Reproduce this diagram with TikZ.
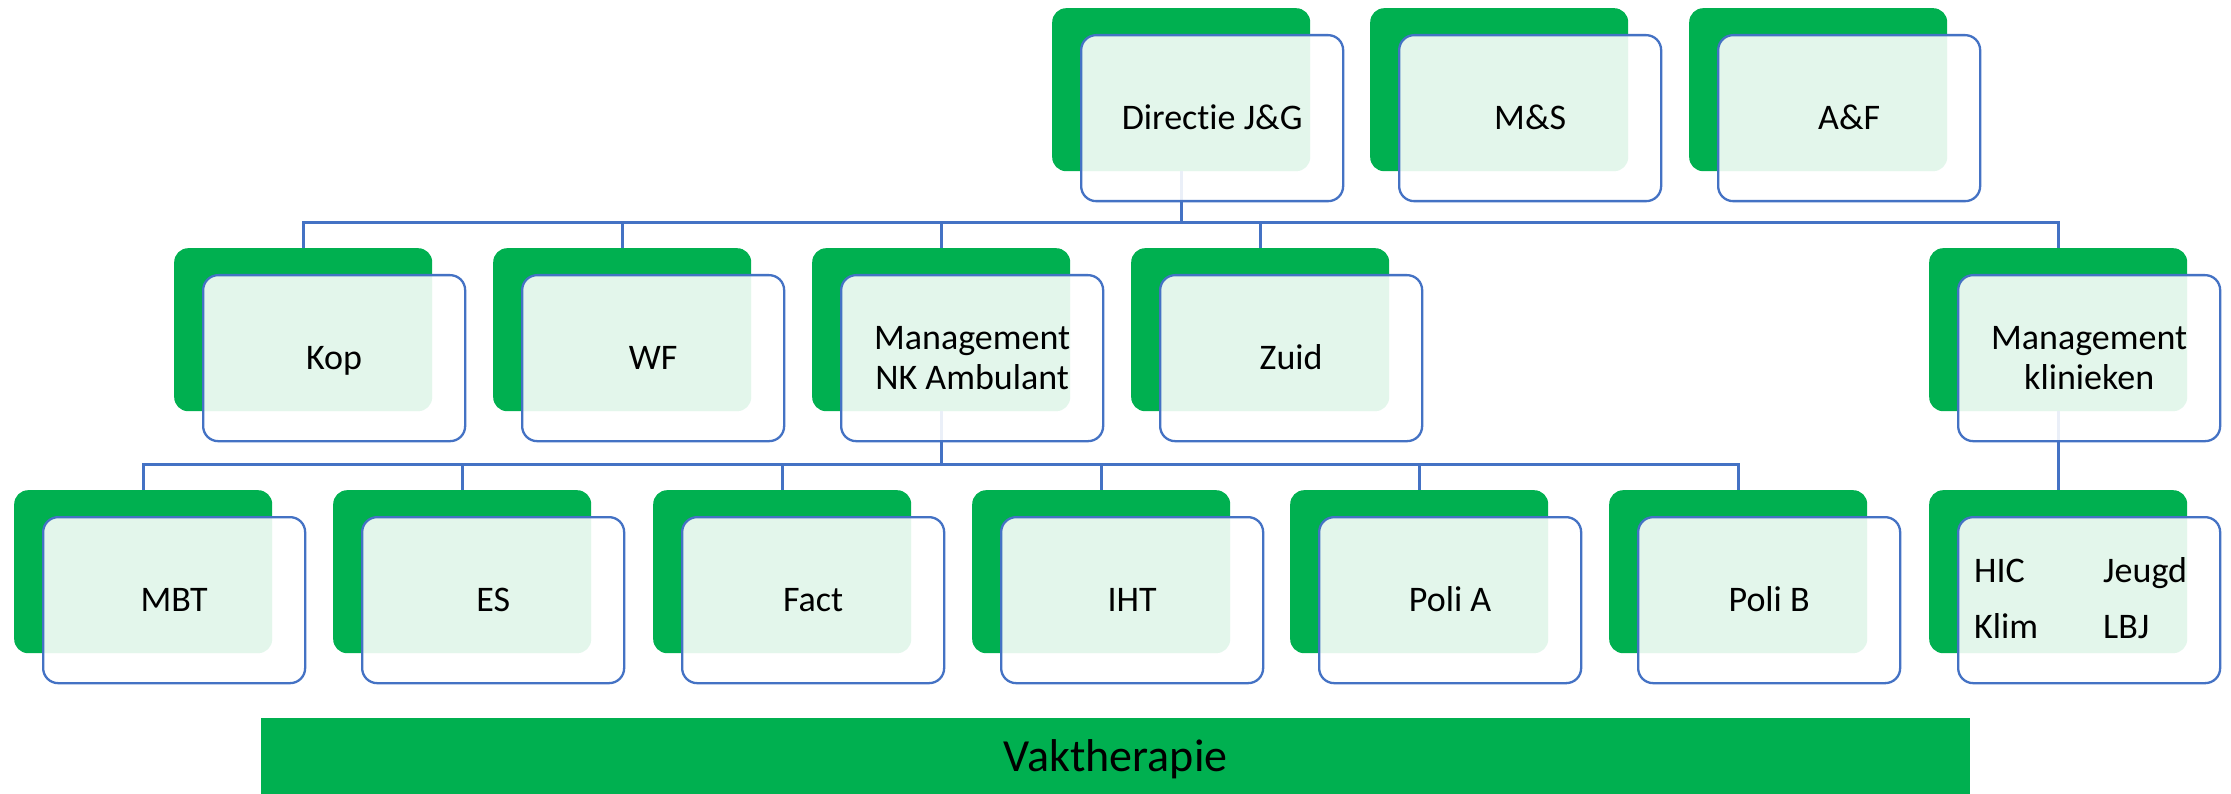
\documentclass[tikz,border=0pt]{standalone}
\usepackage{fontspec}
\setmainfont{Carlito}[Ligatures=NoCommon]
\definecolor{ogreen}{HTML}{00B050}
\definecolor{oblue}{HTML}{4472C4}
\begin{document}
\begin{tikzpicture}[x=1pt,y=-1pt,
  back/.style={rectangle,rounded corners=14pt,fill=ogreen,minimum width=258pt,minimum height=163pt,inner sep=0pt,anchor=north west},
  front/.style={rectangle,rounded corners=15pt,draw=oblue,line width=2.3pt,fill=white,fill opacity=0.89,text opacity=1,draw opacity=1,minimum width=262pt,minimum height=166pt,inner sep=0pt,anchor=north west,align=center,font=\fontsize{36}{40}\selectfont},
  oneline/.style={text height=23pt,text depth=0pt},
  conn/.style={draw=oblue,line width=2.6pt},
  lbl/.style={anchor=base west,inner sep=0pt,font=\fontsize{36}{40}\selectfont}]
\useasboundingbox (0,0) rectangle (2231,794);
% back (green) boxes
\node[back] (dirG) at (1052,8) {};
\node[back] (msG) at (1370,8) {};
\node[back] (afG) at (1689,8) {};
\node[back] (kopG) at (174,248) {};
\node[back] (wfG) at (493,248) {};
\node[back] (nkG) at (812,248) {};
\node[back] (zuidG) at (1131,248) {};
\node[back] (klinG) at (1929,248) {};
\node[back] (mbtG) at (14,490) {};
\node[back] (esG) at (333,490) {};
\node[back] (factG) at (653,490) {};
\node[back] (ihtG) at (972,490) {};
\node[back] (poliaG) at (1290,490) {};
\node[back] (polibG) at (1609,490) {};
\node[back] (kcG) at (1929,490) {};
% connectors
\coordinate (bus1) at ([yshift=-51pt]dirG.south);
\draw[conn] (dirG.south) -- (bus1);
\foreach \c in {kopG,wfG,nkG,zuidG,klinG} {\draw[conn] (bus1) -| (\c.north);}
\coordinate (bus2) at ([yshift=-53pt]nkG.south);
\draw[conn] (nkG.south) -- (bus2);
\foreach \c in {mbtG,esG,factG,ihtG,poliaG,polibG} {\draw[conn] (bus2) -| (\c.north);}
\draw[conn] (klinG.south) -- (kcG.north);
% front boxes
\node[front,oneline] (dir) at ([shift={(28,26)}]dirG.north west) {Directie J\&G};
\node[front,oneline] (ms) at ([shift={(28,26)}]msG.north west) {M\&S};
\node[front,oneline] (af) at ([shift={(28,26)}]afG.north west) {A\&F};
\node[front,oneline] (kop) at ([shift={(28,26)}]kopG.north west) {Kop};
\node[front,oneline] (wf) at ([shift={(28,26)}]wfG.north west) {WF};
\node[front] (nk) at ([shift={(28,26)}]nkG.north west) {Management\\NK Ambulant};
\node[front,oneline] (zuid) at ([shift={(28,26)}]zuidG.north west) {Zuid};
\node[front] (klin) at ([shift={(28,26)}]klinG.north west) {Management\\klinieken};
\node[front,oneline] (mbt) at ([shift={(28,26)}]mbtG.north west) {MBT};
\node[front,oneline] (es) at ([shift={(28,26)}]esG.north west) {ES};
\node[front,oneline] (fact) at ([shift={(28,26)}]factG.north west) {Fact};
\node[front,oneline] (iht) at ([shift={(28,26)}]ihtG.north west) {IHT};
\node[front,oneline] (polia) at ([shift={(28,26)}]poliaG.north west) {Poli A};
\node[front,oneline] (polib) at ([shift={(28,26)}]polibG.north west) {Poli B};
\node[front] (kc) at ([shift={(28,26)}]kcG.north west) {};
\node[lbl] (hic) at (1974,582) {HIC};
\node[lbl] (jeugd) at (2103,582) {Jeugd};
\node[lbl] (klim) at (1974,638) {Klim};
\node[lbl] (lbj) at (2103,638) {LBJ};
% bar
\node[rectangle,fill=ogreen,minimum width=1709pt,minimum height=76pt,inner sep=0pt,anchor=north west,text height=30pt,text depth=0pt,font=\fontsize{46}{50}\selectfont] (vak) at (261,718) {Vaktherapie};
\end{tikzpicture}
\end{document}
